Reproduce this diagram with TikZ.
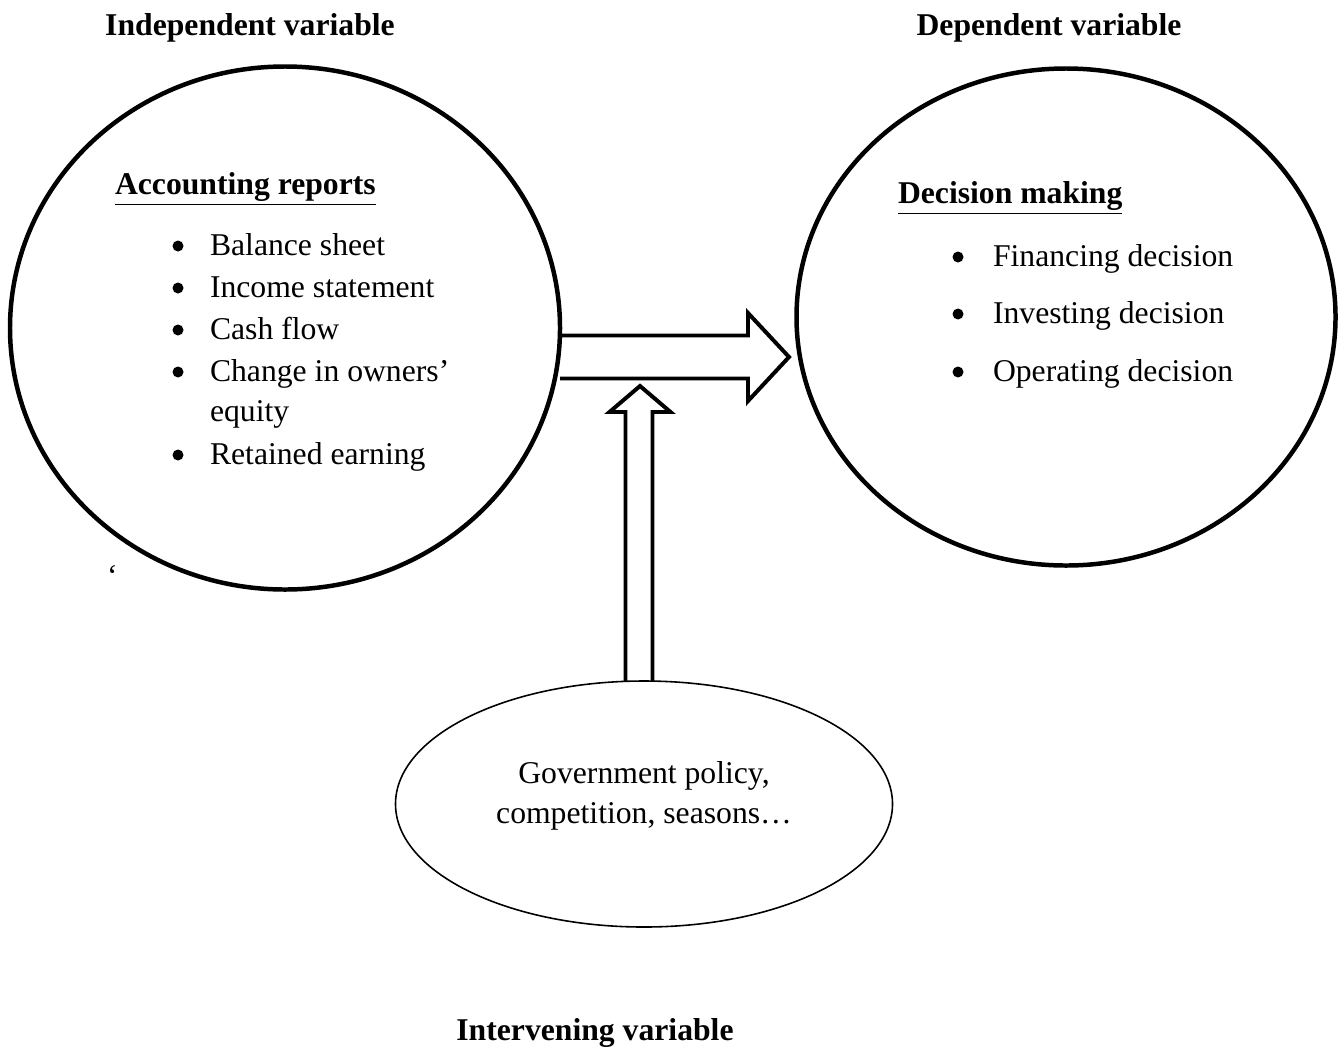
\documentclass[tikz,border=0pt]{standalone}
\usepackage{fontspec}
\setmainfont{Liberation Serif}
\usetikzlibrary{positioning, shapes.geometric}

\newcommand{\px}{0.3788pt}

\begin{document}
\begin{tikzpicture}[
    x=0.3788pt, y=-0.3788pt,
    every node/.style = {inner sep=0pt, outer sep=0pt, font=\fontsize{12}{16}\selectfont},
    var/.style = {draw, ellipse, line width=1.7pt},
    title/.style = {anchor=base, font=\fontsize{12}{16}\selectfont\bfseries},
    heading/.style = {anchor=base west, font=\fontsize{12}{16}\selectfont\bfseries},
    item/.style = {anchor=base west},
    dot/.style = {circle, fill, minimum size=11*\px},
    block/.style = {line width=1.5pt, miter limit=10}
]
    \useasboundingbox (0,0) rectangle (1340,1059);

    % the three variables
    \node [var, minimum width=550*\px, minimum height=523*\px] (acc) at (285,328) {};
    \node [var, minimum width=539*\px, minimum height=497*\px] (dec) at (1066,317) {};
    \node [var, line width=0.6pt, minimum width=497*\px, minimum height=246*\px] (gov) at (644,804) {};

    \node [title] (indep) at (250,35) {Independent variable};
    \node [title] (dep) at (1049,35) {Dependent variable};
    \node [title] (interv) at (595,1040) {Intervening variable};

    % independent variable
    \node [heading] (acchead) at (115,194) {\underline{Accounting reports}};
    \node [dot] (d1) at (178,246) {};
    \node [item] (i1) at (210,255) {Balance sheet};
    \node [dot] (d2) at (178,288) {};
    \node [item] (i2) at (210,297) {Income statement};
    \node [dot] (d3) at (178,330) {};
    \node [item] (i3) at (210,339) {Cash flow};
    \node [dot] (d4) at (178,372) {};
    \node [item] (i4) at (210,381) {Change in owners’};
    \node [item] (i4b) at (210,421) {equity};
    \node [dot] (d5) at (178,455) {};
    \node [item] (i5) at (210,464) {Retained earning};
    \node [item] (quote) at (107,586) {‘};

    % dependent variable
    \node [heading] (dechead) at (898,203) {\underline{Decision making}};
    \node [dot] (e1) at (958,257) {};
    \node [item] (j1) at (993,266) {Financing decision};
    \node [dot] (e2) at (958,314) {};
    \node [item] (j2) at (993,323) {Investing decision};
    \node [dot] (e3) at (958,372) {};
    \node [item] (j3) at (993,381) {Operating decision};

    % intervening variable
    \node [anchor=base] (g1) at (644,783) {Government policy,};
    \node [anchor=base] (g2) at (644,823) {competition, seasons…};

    % block arrows
    \coordinate (hstart) at (560,357);
    \coordinate (vstart) at (639,681);
    \draw [block] ([yshift=21.5*\px]hstart) -- ++(188,0) -- ++(0,-22.5) -- ++(41,44)
        -- ++(-41,44) -- ++(0,-22.5) -- ([yshift=-21.5*\px]hstart);
    \draw [block] ([xshift=-13.5*\px]vstart) -- ++(0,-269) -- ++(-16,0) -- ++(30.5,-26)
        -- ++(30.5,26) -- ++(-18,0) -- ([xshift=13.5*\px]vstart);
\end{tikzpicture}
\end{document}
